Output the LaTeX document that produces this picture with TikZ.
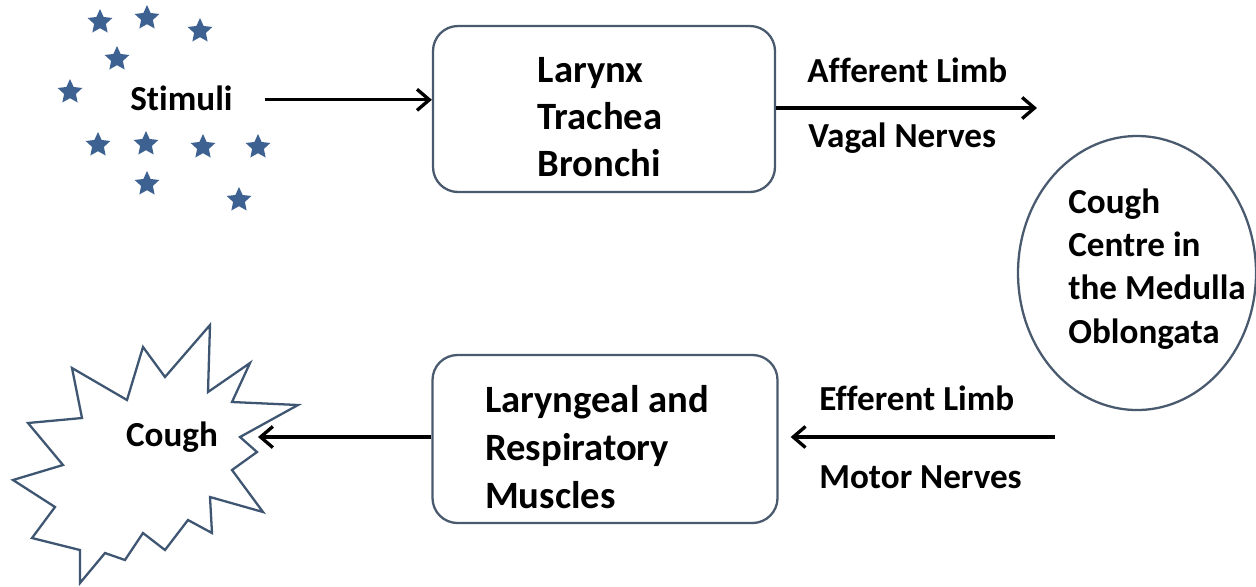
\documentclass[tikz,border=0pt]{standalone}
\usepackage{fontspec}
\setmainfont{Carlito}[Ligatures=NoCommon]
\usetikzlibrary{shapes.geometric,arrows.meta}
\definecolor{boxline}{HTML}{4A5A6E}
\definecolor{starblue}{HTML}{3D6291}
\definecolor{burstline}{HTML}{3F5672}
\tikzset{
  lbl/.style={font=\bfseries\fontsize{20}{26}\selectfont, inner sep=0pt},
  boxtext/.style={font=\bfseries\fontsize{22}{26.8}\selectfont, align=left, inner sep=0pt},
  flowbox/.style={draw=boxline, line width=1.3pt, rounded corners=0.5cm, fill=white},
  arr/.style={line width=1.9pt, -{Straight Barb[length=7pt,width=12pt,line width=1.9pt]}},
  stardot/.style={star, star points=5, star point ratio=2.1, fill=starblue, draw=none, minimum size=0.52cm, inner sep=0pt},
}
\begin{document}
\begin{tikzpicture}[x=0.02cm,y=-0.02cm]
\useasboundingbox (0,0) rectangle (1256,586);
% stars
\node[stardot] (s1) at (100,22) {};
\node[stardot] (s2) at (147,18) {};
\node[stardot] (s3) at (200,31) {};
\node[stardot] (s4) at (117,59) {};
\node[stardot] (s5) at (70,92) {};
\node[stardot] (s6) at (98,145) {};
\node[stardot] (s7) at (146,144) {};
\node[stardot] (s8) at (203,147) {};
\node[stardot] (s9) at (258,147) {};
\node[stardot] (s10) at (147,184) {};
\node[stardot] (s11) at (239,200) {};
\node[lbl, anchor=base west] (stim) at (130,110) {Stimuli};
% top box
\node[flowbox, minimum width=342*0.02cm, minimum height=166*0.02cm] (box1) at (604,109) {};
\node[boxtext] (box1t) at (600,117) {Larynx\\Trachea\\Bronchi};
% bottom box
\node[flowbox, minimum width=345*0.02cm, minimum height=168*0.02cm] (box2) at (605,439) {};
\node[boxtext, font=\bfseries\fontsize{22}{27.5}\selectfont] (box2t) at (597,447) {Laryngeal and\\Respiratory\\Muscles};
% ellipse
\node[draw=boxline, line width=1.3pt, ellipse, minimum width=238*0.02cm, minimum height=274*0.02cm, inner sep=0pt] (centre) at (1137,273) {};
\node[font=\bfseries\fontsize{20}{24.7}\selectfont, align=left, anchor=north west, inner sep=0pt] (cc) at (1068,188) {Cough\\Centre in\\the Medulla\\Oblongata};
% burst
\draw[draw=burstline, line width=1.3pt, line join=miter, fill=white]
 (210,325) -- (208,392) -- (250,363) -- (232,402) -- (298,405) -- (240,437) -- (257,452) -- (232,470) -- (263,512) -- (210,497) -- (212,533) -- (188,520) -- (165,550) -- (143,533) -- (125,560) -- (105,553) -- (80,583) -- (80,550) -- (32,538) -- (55,507) -- (13,480) -- (63,465) -- (28,423) -- (82,418) -- (72,368) -- (127,400) -- (143,347) -- (165,377) -- cycle;
\node[lbl] (cough) at (172,437) {Cough};
% labels
\node[lbl, anchor=base west] (aff) at (807,82) {Afferent Limb};
\node[lbl, anchor=base west] (vag) at (808,147) {Vagal Nerves};
\node[lbl, anchor=base west] (eff) at (819,410) {Efferent Limb};
\node[lbl, anchor=base west] (mot) at (819,488) {Motor Nerves};
% connectors
\coordinate (stimout) at ([yshift=-2*0.02cm]stim.east);
\coordinate (affend) at (1037,108);
\coordinate (effstart) at (1055,437);
\coordinate (coughend) at (258,437);
\draw[arr, shorten <=32*0.02cm] (stimout) -- (box1.west |- stimout);
\draw[arr] (box1.east |- affend) -- (affend);
\draw[arr, shorten >=12*0.02cm] (effstart) -- (box2.east |- effstart);
\draw[arr] (box2.west |- coughend) -- (coughend);
\end{tikzpicture}
\end{document}
